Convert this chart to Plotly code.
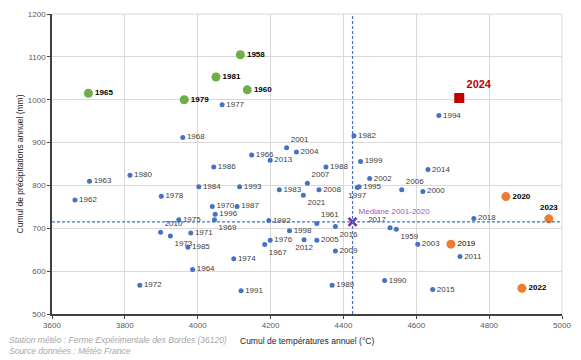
import plotly.graph_objects as go

# ---- data ----
years = [1958, 1959, 1960, 1961, 1962, 1963, 1964, 1965, 1966, 1967, 1968, 1969, 1970,
         1971, 1972, 1973, 1974, 1975, 1976, 1977, 1978, 1979, 1980, 1981, 1982, 1983,
         1984, 1985, 1986, 1987, 1988, 1989, 1990, 1991, 1992, 1993, 1994, 1995, 1996,
         1997, 1998, 1999, 2000, 2001, 2002, 2003, 2004, 2005, 2006, 2007, 2008, 2009,
         2010, 2011, 2012, 2013, 2014, 2015, 2016, 2017, 2018, 2019, 2020, 2021, 2022,
         2023, 2024]
temps = [4117, 4545, 4136, 4327, 3663, 3703, 3986, 3700, 4148, 4184, 3959, 4046, 4040,
         3981, 3841, 3925, 4099, 3948, 4199, 4067, 3900, 3963, 3814, 4050, 4429, 4224,
         4003, 3973, 4044, 4108, 4352, 4369, 4513, 4119, 4195, 4115, 4662, 4443, 4048,
         4438, 4252, 4447, 4618, 4244, 4472, 4604, 4271, 4327, 4560, 4301, 4333, 4378,
         3898, 4720, 4292, 4199, 4632, 4645, 4378, 4528, 4758, 4695, 4846, 4290, 4890,
         4964, 4718]
precs = [1105, 698, 1023, 711, 766, 810, 604, 1015, 871, 662, 912, 720, 751,
         689, 567, 682, 629, 720, 672, 988, 775, 1000, 824, 1053, 916, 790,
         797, 656, 843, 751, 843, 567, 578, 554, 718, 797, 963, 797, 733,
         795, 694, 856, 786, 888, 816, 663, 878, 672, 790, 805, 790, 647,
         691, 634, 673, 859, 837, 557, 704, 701, 723, 663, 774, 777, 560,
         722, 1004]
wet_years = [1958, 1960, 1965, 1979, 1981]
hot_years = [2019, 2020, 2022, 2023]
current_year = [2024]
median_label = "Médiane 2001-2020"
median_temp = 4425
median_prec = 715

x_ticks = [3600, 3800, 4000, 4200, 4400, 4600, 4800, 5000]
y_ticks = [500, 600, 700, 800, 900, 1000, 1100, 1200]

label_pos = {1997: "bottom center", 2017: "top left", 1959: "bottom right", 2016: "bottom right",
             1961: "top right", 1973: "bottom right", 2012: "bottom center", 2023: "top center",
             2024: "top right", 2001: "top right", 2006: "top right", 2010: "top right",
             1969: "bottom right", 1967: "bottom right", 2021: "bottom right", 2007: "top right"}

FONT = "Liberation Sans"
data = dict(zip(years, zip(temps, precs)))


def subset(ys):
    return [data[y][0] for y in ys], [data[y][1] for y in ys]


normal = [y for y in years if y not in wet_years + hot_years + current_year]

fig = go.Figure()

# median lines
fig.add_shape(type="line", xref="x", yref="paper", x0=median_temp, x1=median_temp, y0=0, y1=1,
              line=dict(color="#4472C4", width=1.2, dash="3px,2px"))
fig.add_shape(type="line", xref="paper", yref="y", x0=0, x1=1, y0=median_prec, y1=median_prec,
              line=dict(color="#4472C4", width=1.2, dash="3px,2px"))
# top/right light border
fig.add_shape(type="line", xref="paper", yref="paper", x0=0, x1=1, y0=1, y1=1,
              line=dict(color="#d9d9d9", width=1))
fig.add_shape(type="line", xref="paper", yref="paper", x0=1, x1=1, y0=0, y1=1,
              line=dict(color="#d9d9d9", width=1))

xs, ys_ = subset(normal)
fig.add_trace(go.Scatter(x=xs, y=ys_, mode="markers+text", text=[str(y) for y in normal],
                         textposition=[label_pos.get(y, "middle right") for y in normal],
                         textfont=dict(family=FONT, size=8, color="#404040"),
                         marker=dict(color="#4472C4", size=5), cliponaxis=False, showlegend=False))

xs, ys_ = subset(wet_years)
fig.add_trace(go.Scatter(x=xs, y=ys_, mode="markers+text",
                         text=["<b>%d</b>" % y for y in wet_years],
                         textposition=[label_pos.get(y, "middle right") for y in wet_years],
                         textfont=dict(family=FONT, size=8, color="#000000"),
                         marker=dict(color="#70AD47", size=9), cliponaxis=False, showlegend=False))

xs, ys_ = subset(hot_years)
fig.add_trace(go.Scatter(x=xs, y=ys_, mode="markers+text",
                         text=[("%d" % y) if y == 2019 else ("<b>%d</b>" % y) for y in hot_years],
                         textposition=[label_pos.get(y, "middle right") for y in hot_years],
                         textfont=dict(family=FONT, size=8, color="#000000"),
                         marker=dict(color="#ED7D31", size=9), cliponaxis=False, showlegend=False))

xs, ys_ = subset(current_year)
fig.add_trace(go.Scatter(x=xs, y=ys_, mode="markers+text",
                         text=["<b>%d</b>" % y for y in current_year],
                         textposition="top right",
                         textfont=dict(family=FONT, size=11, color="#C00000"),
                         marker=dict(color="#C00000", size=10, symbol="square"),
                         cliponaxis=False, showlegend=False))

fig.add_trace(go.Scatter(x=[median_temp], y=[median_prec], mode="markers+text", text=[median_label],
                         textposition="top right",
                         textfont=dict(family=FONT, size=8, color="#9B59C6"),
                         marker=dict(color="#7030A0", size=8, symbol="x-thin",
                                     line=dict(color="#7030A0", width=2.5)),
                         cliponaxis=False, showlegend=False))

fig.update_layout(
    width=581, height=360,
    margin=dict(l=52, r=19, t=10, b=46),
    paper_bgcolor="white", plot_bgcolor="white",
    font=dict(family=FONT, size=8, color="#595959"),
    xaxis=dict(range=[3600, 5000], tickvals=x_ticks, ticktext=[str(v) for v in x_ticks],
               showgrid=True, gridcolor="#d9d9d9", gridwidth=1, zeroline=False,
               showline=True, linecolor="#404040", linewidth=1.5,
               ticks="outside", ticklen=3, tickcolor="#404040",
               tickfont=dict(size=8, color="#595959")),
    yaxis=dict(range=[500, 1200], tickvals=y_ticks, ticktext=[str(v) for v in y_ticks],
               showgrid=True, gridcolor="#d9d9d9", gridwidth=1, zeroline=False,
               showline=True, linecolor="#404040", linewidth=1.5,
               ticks="outside", ticklen=3, tickcolor="#404040",
               tickfont=dict(size=8, color="#595959")),
    annotations=[
        dict(text="Cumul de précipitations annuel (mm)", xref="paper", yref="paper",
             x=-0.062, y=0.5, xanchor="center", yanchor="middle", textangle=-90, showarrow=False,
             font=dict(family=FONT, size=8.5, color="#262626")),
        dict(text="Cumul de températures annuel (°C)", xref="paper", yref="paper",
             x=0.5, y=-0.063, xanchor="center", yanchor="top", showarrow=False,
             font=dict(family=FONT, size=8.5, color="#262626"), yshift=-1),
        dict(text="<i>Station météo : Ferme Expérimentale des Bordes (36120)</i>", xref="paper",
             yref="paper", x=-0.088, y=-0.063, xanchor="left", yanchor="top", showarrow=False,
             font=dict(family=FONT, size=8.5, color="#a6a6a6")),
        dict(text="<i>Source données : Météo France</i>", xref="paper",
             yref="paper", x=-0.088, y=-0.1, xanchor="left", yanchor="top", showarrow=False,
             font=dict(family=FONT, size=8.5, color="#a6a6a6")),
    ],
)

fig.write_html("out.html", config={"displayModeBar": False},
               post_script="document.body.style.margin='0';document.body.style.overflow='hidden';")
